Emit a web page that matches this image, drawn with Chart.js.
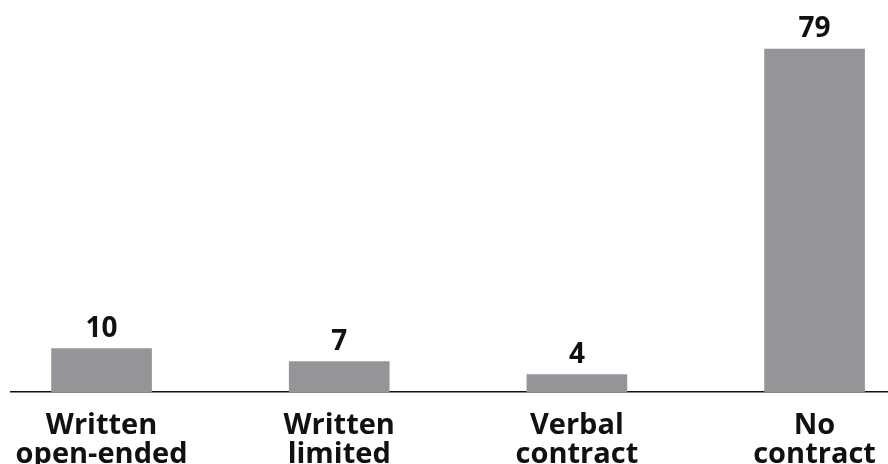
<!DOCTYPE html>
<html>
<head>
<meta charset="utf-8">
<script src="https://cdn.jsdelivr.net/npm/chart.js@4/dist/chart.umd.min.js"></script>
<style>
  html, body { margin: 0; padding: 0; background: #fff; }
  #wrap { width: 888px; height: 464px; }
</style>
</head>
<body>
<div id="wrap"><canvas id="contracts"></canvas></div>
<script>
// --- DATA ---
const categories = [
    ['Written', 'open-ended'],
    ['Written', 'limited'],
    ['Verbal', 'contract'],
    ['No', 'contract']
];
const shares = [10, 7, 4, 79];

const barColor = '#939598';
const font = '"Open Sans", "Noto Sans", sans-serif';

// value labels above each bar
const valueLabels = {
    id: 'valueLabels',
    afterDatasetsDraw(chart) {
        const ctx = chart.ctx;
        const meta = chart.getDatasetMeta(0);
        ctx.save();
        ctx.fillStyle = '#111';
        ctx.font = `bold 28px ${font}`;
        ctx.textAlign = 'center';
        ctx.textBaseline = 'alphabetic';
        meta.data.forEach((bar, i) => {
            ctx.fillText(String(shares[i]), bar.x, bar.y - 12);
        });
        ctx.restore();
    }
};

const ctx = document.getElementById('contracts').getContext('2d');
new Chart(ctx, {
    type: 'bar',
    data: {
        datasets: [{
            data: shares.map((v, i) => ({ x: i, y: v })),
            backgroundColor: barColor,
            barThickness: 100,
            borderWidth: 0
        }]
    },
    options: {
        responsive: true,
        maintainAspectRatio: false,
        animation: false,
        layout: { padding: { left: 11, right: 0, top: 0, bottom: 0 } },
        plugins: {
            legend: { display: false },
            tooltip: { enabled: false }
        },
        scales: {
            x: {
                type: 'linear',
                offset: false,
                min: -0.381,
                max: 3.309,
                grid: { display: false, drawTicks: false, offset: false },
                border: { display: true, color: '#111', width: 1.5 },
                // fixed axis height, and don't let wide labels shrink the plot
                afterFit: (scale) => {
                    scale.height = 72;
                    scale.paddingLeft = 0;
                    scale.paddingRight = 0;
                },
                ticks: {
                    stepSize: 1,
                    includeBounds: false,
                    autoSkip: false,
                    maxRotation: 0,
                    padding: 19,
                    color: '#111',
                    font: { family: font, size: 29, weight: 'bold', lineHeight: 1.0 },
                    callback: (value) => Number.isInteger(value) ? categories[value] : ''
                }
            },
            y: {
                display: false,
                min: 0,
                max: 90.29
            }
        }
    },
    plugins: [valueLabels]
});
</script>
</body>
</html>
